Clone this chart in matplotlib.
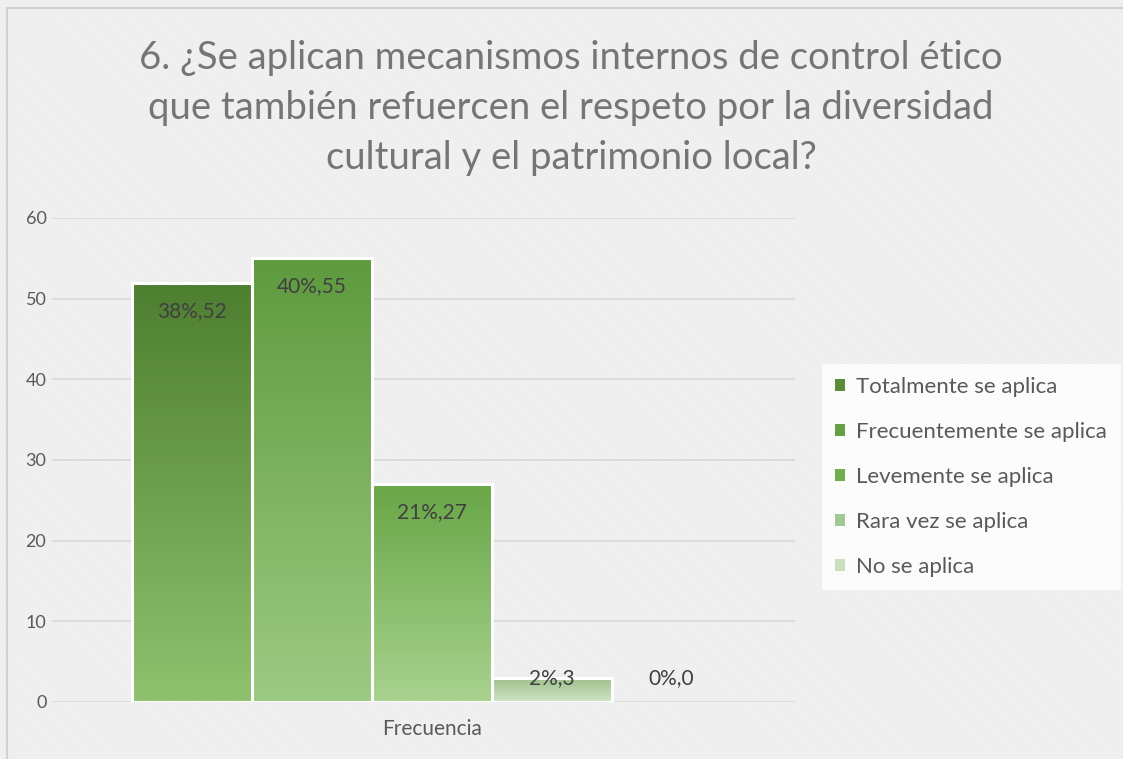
import matplotlib
matplotlib.use("Agg")
import matplotlib.pyplot as plt
import numpy as np
from matplotlib.patches import Rectangle
from matplotlib.colors import LinearSegmentedColormap

# ---- data ----
categories = ["Totalmente se aplica", "Frecuentemente se aplica", "Levemente se aplica",
              "Rara vez se aplica", "No se aplica"]
values = [52, 55, 27, 3, 0]
percents = ["38%", "40%", "21%", "2%", "0%"]
yticks = [0, 10, 20, 30, 40, 50, 60]
xlabel = "Frecuencia"
title = ("6. ¿Se aplican mecanismos internos de control ético\n"
         "que también refuercen el respeto por la diversidad\n"
         "cultural y el patrimonio local?")

# ---- style ----
top_colors = ["#4e7e2f", "#5e9a3e", "#68a647", "#9cbf89", "#bcd8b0"]
bot_colors = ["#8fc16f", "#9dca82", "#a8d28e", "#cfe4c7", "#e0eedb"]
legend_colors = ["#5a8c3a", "#64a043", "#6fae4d", "#a3c792", "#c9dfc0"]

plt.rcParams['font.family'] = ['Lato', 'DejaVu Sans']
plt.rcParams['hatch.linewidth'] = 0.7
plt.rcParams['hatch.color'] = '#eaeaea'

W, H = 1123, 759
fig = plt.figure(figsize=(W / 100, H / 100), dpi=100)
fig.patch.set_facecolor('white')

# background hatch
bg = Rectangle((0, 0), 1, 1, transform=fig.transFigure, facecolor='white',
               edgecolor='#eaeaea', hatch='\\' * 18, linewidth=0, zorder=-10)
fig.patches.append(bg)
# outer border
border = Rectangle((7 / W, -0.01), 1.02, 1 - 8 / H + 0.01, transform=fig.transFigure,
                   facecolor='none', edgecolor='#d0d0d0', linewidth=1.5, zorder=-5)
fig.patches.append(border)

ax = fig.add_axes([52 / W, 1 - 702 / H, 743 / W, (702 - 218) / H])
ax.set_facecolor('none')

n = len(values)
w = 120 / 743
center = 0.511
xs = [center + (i - (n - 1) / 2) * w for i in range(n)]

for i, (x, v) in enumerate(zip(xs, values)):
    if v > 0:
        cmap = LinearSegmentedColormap.from_list("g%d" % i, [bot_colors[i], top_colors[i]])
        grad = np.linspace(0, 1, 256).reshape(-1, 1)
        im = ax.imshow(grad, extent=(x - w / 2, x + w / 2, 0, v), origin='lower',
                       aspect='auto', cmap=cmap, zorder=2)
        rect = Rectangle((x - w / 2, 0), w, v, facecolor='none', edgecolor='white',
                         linewidth=2.2, zorder=3)
        ax.add_patch(rect)
        im.set_clip_path(rect)
    ly = max(v - 3.5, 3.0)
    ax.text(x, ly, f"{percents[i]},{v}", ha='center', va='center', fontsize=15,
            color='#404040', zorder=4)

ax.set_xlim(0, 1)
ax.set_ylim(0, 60)
ax.set_yticks(yticks)
ax.set_yticklabels([str(t) for t in yticks], fontsize=13, color='#595959')
ax.tick_params(axis='y', length=0, pad=4)
ax.set_xticks([center])
ax.set_xticklabels([xlabel], fontsize=15, color='#595959')
ax.tick_params(axis='x', length=0, pad=12)
ax.grid(axis='y', color='#d9d9d9', linewidth=1.3, zorder=0)
ax.set_axisbelow(True)
for s in ax.spines.values():
    s.set_visible(False)

fig.text(571 / W, 1 - 108 / H, title, ha='center', va='center', fontsize=27.5,
         color='#757575', linespacing=1.5)

handles = [Rectangle((0, 0), 1, 1, facecolor=c, edgecolor='none') for c in legend_colors]
leg = fig.legend(handles, categories, loc='upper left',
                 bbox_to_anchor=(822 / W, 1 - 364 / H), frameon=True, fontsize=16,
                 labelcolor='#595959', handlelength=0.45, handleheight=0.45,
                 handletextpad=0.5, labelspacing=1.12, borderpad=0.6, borderaxespad=0)
leg.get_frame().set_facecolor('white')
leg.get_frame().set_edgecolor('none')
leg.get_frame().set_alpha(0.8)
leg.get_frame().set_boxstyle('square', pad=0)

fig.savefig("out.png", dpi=100)
